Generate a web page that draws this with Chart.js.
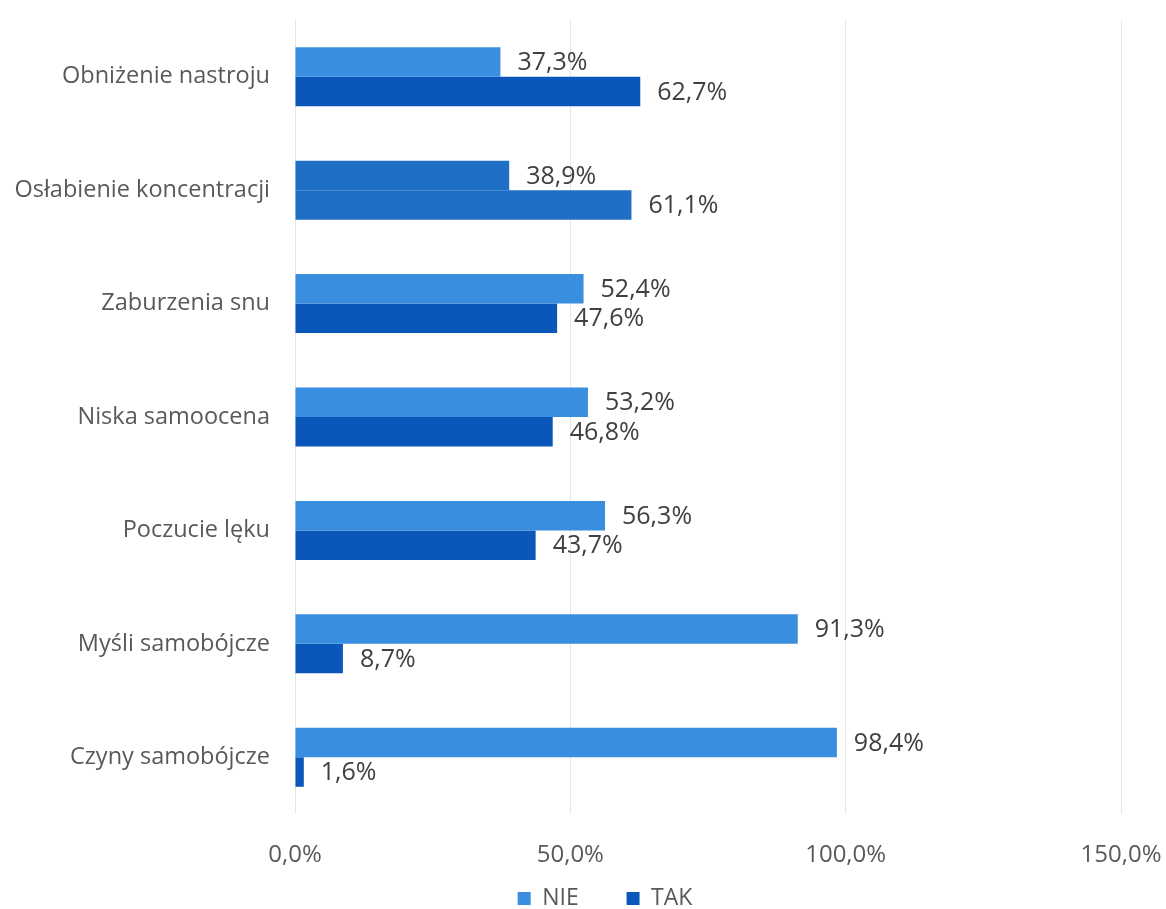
<!DOCTYPE html>
<html>
<head>
<meta charset="utf-8">
<script src="https://cdn.jsdelivr.net/npm/chart.js@4.4.1/dist/chart.umd.min.js"></script>
<style>
  html, body { margin: 0; padding: 0; background: #fff; }
  #wrap { width: 1166px; height: 909px; position: relative; }
</style>
</head>
<body>
<div id="wrap"><canvas id="chart"></canvas></div>
<script>
// dane z wykresu
const categories = [
  'Obniżenie nastroju',
  'Osłabienie koncentracji',
  'Zaburzenia snu',
  'Niska samoocena',
  'Poczucie lęku',
  'Myśli samobójcze',
  'Czyny samobójcze'
];
const seriesNames = ['NIE', 'TAK'];
const nieValues = [37.3, 38.9, 52.4, 53.2, 56.3, 91.3, 98.4];
const takValues = [62.7, 61.1, 47.6, 46.8, 43.7, 8.7, 1.6];
const xTicks = [0, 50, 100, 150];

const LIGHT = '#3a8ee0';
const DARK = '#0b57b9';
const SCAN = '#1f6fc6'; // drugi wiersz w skanie ma oba słupki w jednym odcieniu

const fmt = v => v.toFixed(1).replace('.', ',') + '%';

// etykiety wartości przy końcach słupków
const valueLabels = {
  id: 'valueLabels',
  afterDatasetsDraw(chart) {
    const ctx = chart.ctx;
    ctx.save();
    ctx.font = '25px "Open Sans"';
    ctx.fillStyle = '#404040';
    ctx.textAlign = 'left';
    ctx.textBaseline = 'middle';
    chart.data.datasets.forEach((ds, di) => {
      chart.getDatasetMeta(di).data.forEach((bar, i) => {
        ctx.fillText(fmt(ds.data[i]), bar.x + 17, bar.y + 1);
      });
    });
    ctx.restore();
  }
};

new Chart(document.getElementById('chart'), {
  type: 'bar',
  data: {
    labels: categories,
    datasets: [
      {
        label: seriesNames[0],
        data: nieValues,
        backgroundColor: nieValues.map((v, i) => i === 1 ? SCAN : LIGHT),
        categoryPercentage: 0.52,
        barPercentage: 1.0
      },
      {
        label: seriesNames[1],
        data: takValues,
        backgroundColor: takValues.map((v, i) => i === 1 ? SCAN : DARK),
        categoryPercentage: 0.52,
        barPercentage: 1.0
      }
    ]
  },
  options: {
    indexAxis: 'y',
    responsive: true,
    maintainAspectRatio: false,
    animation: false,
    // ujemny prawy margines przesuwa środek legendy w prawo (jak w oryginale)
    layout: { padding: { top: 20, right: -44, bottom: 0, left: 0 } },
    plugins: {
      legend: {
        position: 'bottom',
        maxHeight: 40,
        labels: {
          boxWidth: 13,
          boxHeight: 13,
          padding: 18,
          color: '#595959',
          font: { family: 'Open Sans', size: 23 },
          generateLabels(chart) {
            // odstępy na końcu poszerzają przerwę między pozycjami legendy
            return chart.data.datasets.map((ds, i) => ({
              text: i === 0 ? ds.label + '     ' : ds.label,
              fillStyle: i === 0 ? LIGHT : DARK,
              strokeStyle: i === 0 ? LIGHT : DARK,
              lineWidth: 0,
              datasetIndex: i,
              fontColor: '#595959'
            }));
          }
        }
      },
      tooltip: { enabled: false }
    },
    scales: {
      x: {
        min: 0,
        max: 150,
        afterBuildTicks(scale) {
          scale.ticks = xTicks.map(v => ({ value: v }));
        },
        afterFit(scale) {
          scale.height = 55;
          scale.paddingRight = 45;
          scale.paddingLeft = 0;
        },
        grid: { color: '#e6e6e6', drawTicks: false },
        border: { display: false },
        ticks: {
          padding: 27,
          color: '#595959',
          font: { family: 'Open Sans', size: 24 },
          callback: v => fmt(v)
        }
      },
      y: {
        grid: { display: false, drawTicks: false },
        border: { display: false },
        afterFit(scale) {
          scale.width = 295;
          scale.paddingTop = 0;
          scale.paddingBottom = 0;
        },
        ticks: {
          padding: 25,
          color: '#595959',
          font: { family: 'Open Sans', size: 23.5 }
        }
      }
    }
  },
  plugins: [valueLabels]
});
</script>
</body>
</html>
